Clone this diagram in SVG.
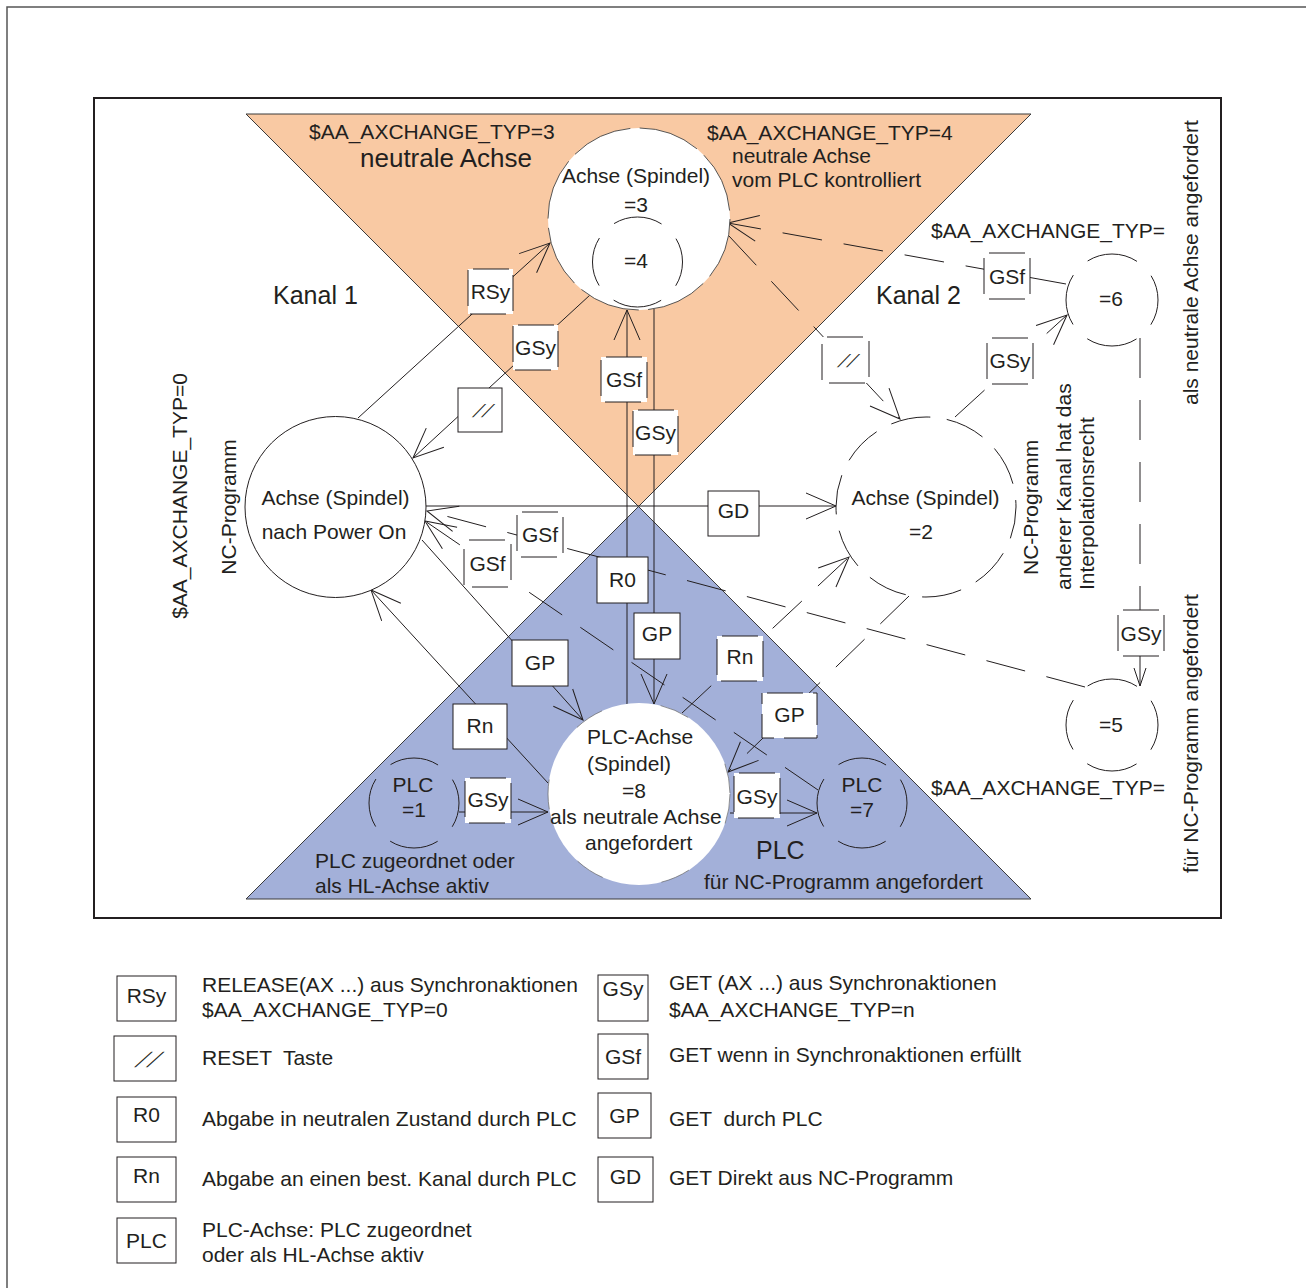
<svg xmlns="http://www.w3.org/2000/svg" width="1306" height="1288" viewBox="0 0 1306 1288">
  <defs>
    <style>
      .t{font-family:"Liberation Sans",Arial,sans-serif;font-size:21px;fill:#231f20}
      .c{text-anchor:middle}
      .f18{font-size:18px}
      .f25{font-size:25px}
      .f26{font-size:26px}
      .ln{stroke:#231f20;stroke-width:1;fill:none}
      .dash{stroke-dasharray:40 22}
      .box{fill:#fff;stroke:#231f20;stroke-width:1}
      .obox{fill:#fff;stroke:#231f20;stroke-width:1;stroke-dasharray:0 5 36 5}
      .dc46{fill:none;stroke:#231f20;stroke-width:1;stroke-dasharray:52 20.26;stroke-dashoffset:26}
      .dc45{fill:none;stroke:#231f20;stroke-width:1;stroke-dasharray:50 20.69;stroke-dashoffset:25}
      .dc90{fill:none;stroke:#231f20;stroke-width:1;stroke-dasharray:40 16.55;stroke-dashoffset:8}
      .arr{marker-end:url(#ah)}
    </style>
    <marker id="ah" viewBox="-32 -16 34 32" refX="0" refY="0" markerWidth="34" markerHeight="32" markerUnits="userSpaceOnUse" orient="auto" overflow="visible">
      <path d="M-30,-13 L0,0 L-30,13" fill="none" stroke="#231f20" stroke-width="1" stroke-dasharray="none"/>
    </marker>
    <marker id="ahs" viewBox="-20 -8 22 16" refX="0" refY="0" markerWidth="22" markerHeight="16" markerUnits="userSpaceOnUse" orient="auto" overflow="visible">
      <path d="M-18,-6 L0,0 L-18,6" fill="none" stroke="#231f20" stroke-width="1" stroke-dasharray="none"/>
    </marker>
  </defs>

  <rect width="1306" height="1288" fill="#fff"/>
  <!-- page frame and drawing frame -->
  <rect x="7" y="7" width="1330" height="1320" fill="none" stroke="#555" stroke-width="1.5"/>
  <rect x="94" y="98" width="1127" height="820" fill="none" stroke="#231f20" stroke-width="2"/>

  <!-- channel / PLC areas -->
  <g id="areas">
    <polygon points="246,114 1031,114 638.5,506.5" fill="#F9C9A3" stroke="#3a3a3a" stroke-width="1"/>
    <polygon points="638.5,506.5 1031,899 246,899" fill="#A3B0D9" stroke="#3a3a3a" stroke-width="1"/>
  </g>

  <!-- transitions -->
  <g id="connectors">
    <line class="ln arr" x1="358" y1="418" x2="550" y2="243"/>
    <line class="ln arr" x1="590" y1="295" x2="413" y2="458"/>
    <line class="ln arr" x1="627" y1="704" x2="627" y2="310"/>
    <line class="ln arr" x1="654" y1="309" x2="654" y2="704"/>
    <line class="ln arr" x1="426" y1="506" x2="836" y2="506"/>
    <line class="ln dash arr" x1="1085" y1="687" x2="427" y2="511"/>
    <line class="ln dash arr" x1="818" y1="790" x2="425" y2="521"/>
    <line class="ln arr" x1="548" y1="783" x2="371" y2="590"/>
    <line class="ln arr" x1="422" y1="540" x2="583" y2="720"/>
    <line class="ln dash arr" x1="1066" y1="284" x2="728" y2="223"/>
    <line class="ln dash arr" x1="729" y1="236" x2="900" y2="419"/>
    <line class="ln dash arr" x1="955" y1="417" x2="1067" y2="315"/>
    <line class="ln dash arr" x1="682" y1="713" x2="849" y2="557"/>
    <line class="ln dash arr" x1="909" y1="596" x2="728" y2="772"/>
    <line class="ln arr" x1="459" y1="812" x2="548" y2="812"/>
    <line class="ln arr" x1="730" y1="813" x2="817" y2="813"/>
    <line class="ln dash" x1="1140" y1="338" x2="1140" y2="610"/>
    <line class="ln" x1="1140" y1="656" x2="1140" y2="686" marker-end="url(#ahs)"/>

    <!-- transition labels -->
    <g id="lbl-rsy"><rect class="obox" x="468" y="269" width="45" height="45"/><text class="t c" x="490.5" y="299">RSy</text></g>
    <g id="lbl-gsy-a"><rect class="obox" x="513" y="325" width="45" height="45"/><text class="t c" x="535.5" y="355">GSy</text></g>
    <g id="lbl-reset-a"><rect class="box" x="458" y="388" width="44" height="44"/><text class="t c f18" letter-spacing="4" transform="translate(481,417) skewX(-35)">//</text></g>
    <g id="lbl-gsf-a"><rect class="obox" x="601" y="357" width="46" height="45"/><text class="t c" x="624" y="387">GSf</text></g>
    <g id="lbl-gsy-b"><rect class="obox" x="633" y="410" width="45" height="45"/><text class="t c" x="655.5" y="440">GSy</text></g>
    <g id="lbl-gsf-b"><rect class="obox" x="984" y="253" width="46" height="46"/><text class="t c" x="1007" y="284">GSf</text></g>
    <g id="lbl-reset-b"><rect class="obox" x="822" y="337" width="47" height="46"/><text class="t c f18" letter-spacing="4" transform="translate(846,367) skewX(-35)">//</text></g>
    <g id="lbl-gsy-c"><rect class="obox" x="987" y="338" width="46" height="46"/><text class="t c" x="1010" y="368">GSy</text></g>
    <g id="lbl-gd"><rect class="box" x="708" y="491" width="51" height="45"/><text class="t c" x="733.5" y="518">GD</text></g>
    <g id="lbl-gsf-c"><rect class="obox" x="517" y="512" width="46" height="45"/><text class="t c" x="540" y="542">GSf</text></g>
    <g id="lbl-gsf-d"><rect class="obox" x="464" y="540" width="47" height="47"/><text class="t c" x="487.5" y="571">GSf</text></g>
    <g id="lbl-r0"><rect class="box" x="597" y="557" width="51" height="46"/><text class="t c" x="622.5" y="587">R0</text></g>
    <g id="lbl-gp-a"><rect class="box" x="634" y="613" width="46" height="46"/><text class="t c" x="657" y="641">GP</text></g>
    <g id="lbl-gp-b"><rect class="box" x="512" y="640" width="56" height="46"/><text class="t c" x="540" y="670">GP</text></g>
    <g id="lbl-rn-a"><rect class="obox" x="717" y="636" width="46" height="45"/><text class="t c" x="740" y="664">Rn</text></g>
    <g id="lbl-gp-c"><rect class="obox" x="762" y="693" width="55" height="45"/><text class="t c" x="789.5" y="722">GP</text></g>
    <g id="lbl-rn-b"><rect class="box" x="453" y="704" width="54" height="45"/><text class="t c" x="480" y="733">Rn</text></g>
    <g id="lbl-gsy-d"><rect class="obox" x="465" y="778" width="46" height="45"/><text class="t c" x="488" y="807">GSy</text></g>
    <g id="lbl-gsy-e"><rect class="obox" x="734" y="773" width="46" height="45"/><text class="t c" x="757" y="804">GSy</text></g>
    <g id="lbl-gsy-f"><rect class="obox" x="1118" y="610" width="46" height="46"/><text class="t c" x="1141" y="641">GSy</text></g>
  </g>

  <!-- axis states -->
  <g id="node-neutral">
    <circle cx="639" cy="219" r="91" fill="#fff" stroke="#444" stroke-width="0.9" stroke-dasharray="62 9.47"/>
    <text class="t c" x="636" y="183">Achse (Spindel)</text>
    <text class="t c" x="636" y="212">=3</text>
  </g>
  <g id="node-neutral-plc">
    <circle class="dc45" cx="637.5" cy="262" r="45"/>
    <text class="t c" x="636" y="268">=4</text>
  </g>
  <g id="node-poweron">
    <circle cx="335.5" cy="507" r="90.5" fill="#fff" stroke="#231f20" stroke-width="1"/>
    <text class="t c" x="335.5" y="505">Achse (Spindel)</text>
    <text class="t c" x="334" y="539">nach Power On</text>
  </g>
  <g id="node-other-channel">
    <circle class="dc90" cx="926" cy="507" r="90"/>
    <text class="t c" x="925.5" y="505">Achse (Spindel)</text>
    <text class="t c" x="921" y="539">=2</text>
  </g>
  <g id="node-6">
    <circle class="dc46" cx="1112" cy="300" r="46"/>
    <text class="t c" x="1111" y="306">=6</text>
  </g>
  <g id="node-5">
    <circle class="dc46" cx="1112" cy="725" r="46"/>
    <text class="t c" x="1111" y="732">=5</text>
  </g>
  <g id="node-plc1">
    <circle class="dc45" cx="414" cy="803" r="45"/>
    <text class="t c" x="413" y="792">PLC</text>
    <text class="t c" x="414" y="817">=1</text>
  </g>
  <g id="node-plc7">
    <circle class="dc45" cx="862" cy="803" r="45"/>
    <text class="t c" x="862" y="792">PLC</text>
    <text class="t c" x="862" y="817">=7</text>
  </g>
  <g id="node-plc8">
    <circle cx="639" cy="794" r="91" fill="#fff" stroke="#666" stroke-width="0.7" stroke-dasharray="30 60"/>
    <text class="t" x="587" y="744">PLC-Achse</text>
    <text class="t" x="587" y="771">(Spindel)</text>
    <text class="t c" x="634" y="798">=8</text>
    <text class="t" x="550" y="824">als neutrale Achse</text>
    <text class="t" x="585" y="850">angefordert</text>
  </g>

  <!-- area captions -->
  <g id="captions">
    <text class="t" x="309" y="139">$AA_AXCHANGE_TYP=3</text>
    <text class="t f26" x="360" y="167">neutrale Achse</text>
    <text class="t" x="707" y="140">$AA_AXCHANGE_TYP=4</text>
    <text class="t" x="732" y="163">neutrale Achse</text>
    <text class="t" x="732" y="187">vom PLC kontrolliert</text>
    <text class="t f25" x="273" y="304">Kanal 1</text>
    <text class="t f25" x="876" y="304">Kanal 2</text>
    <text class="t" x="931" y="238">$AA_AXCHANGE_TYP=</text>
    <text class="t" x="931" y="795">$AA_AXCHANGE_TYP=</text>
    <text class="t" x="315" y="868">PLC zugeordnet oder</text>
    <text class="t" x="315" y="893">als HL-Achse aktiv</text>
    <text class="t f25" x="756" y="859">PLC</text>
    <text class="t" x="704" y="889">für NC-Programm angefordert</text>
    <text class="t c" transform="translate(187,496) rotate(-90)">$AA_AXCHANGE_TYP=0</text>
    <text class="t c" transform="translate(236,507) rotate(-90)">NC-Programm</text>
    <text class="t" transform="translate(1038,575) rotate(-90)">NC-Programm</text>
    <text class="t" transform="translate(1071,590) rotate(-90)">anderer Kanal hat das</text>
    <text class="t" transform="translate(1094,590) rotate(-90)">Interpolationsrecht</text>
    <text class="t" transform="translate(1198,405) rotate(-90)">als neutrale Achse angefordert</text>
    <text class="t" transform="translate(1198,873) rotate(-90)">für NC-Programm angefordert</text>
  </g>

  <!-- key -->
  <g id="legend">
    <rect class="box" x="117" y="976" width="59" height="45"/><text class="t c" x="146.5" y="1003">RSy</text>
    <text class="t" x="202" y="992">RELEASE(AX ...) aus Synchronaktionen</text>
    <text class="t" x="202" y="1017">$AA_AXCHANGE_TYP=0</text>

    <rect class="box" x="114" y="1036" width="62" height="45"/><text class="t c" letter-spacing="6" transform="translate(146,1067) skewX(-40)">//</text>
    <text class="t" x="202" y="1065" xml:space="preserve">RESET  Taste</text>

    <rect class="box" x="117" y="1097" width="59" height="45"/><text class="t c" x="146.5" y="1122">R0</text>
    <text class="t" x="202" y="1126">Abgabe in neutralen Zustand durch PLC</text>

    <rect class="box" x="117" y="1157" width="59" height="45"/><text class="t c" x="146.5" y="1183">Rn</text>
    <text class="t" x="202" y="1186">Abgabe an einen best. Kanal durch PLC</text>

    <rect class="box" x="117" y="1218" width="59" height="45"/><text class="t c" x="146.5" y="1248">PLC</text>
    <text class="t" x="202" y="1237">PLC-Achse: PLC zugeordnet</text>
    <text class="t" x="202" y="1262">oder als HL-Achse aktiv</text>

    <rect class="box" x="598" y="975" width="50" height="46"/><text class="t c" x="623" y="996">GSy</text>
    <text class="t" x="669" y="990">GET (AX ...) aus Synchronaktionen</text>
    <text class="t" x="669" y="1017">$AA_AXCHANGE_TYP=n</text>

    <rect class="box" x="598" y="1034" width="50" height="45"/><text class="t c" x="623" y="1064">GSf</text>
    <text class="t" x="669" y="1062">GET wenn in Synchronaktionen erfüllt</text>

    <rect class="box" x="598" y="1093" width="53" height="45"/><text class="t c" x="624.5" y="1123">GP</text>
    <text class="t" x="669" y="1126" xml:space="preserve">GET  durch PLC</text>

    <rect class="box" x="598" y="1157" width="55" height="45"/><text class="t c" x="625.5" y="1184">GD</text>
    <text class="t" x="669" y="1185">GET Direkt aus NC-Programm</text>
  </g>
</svg>
